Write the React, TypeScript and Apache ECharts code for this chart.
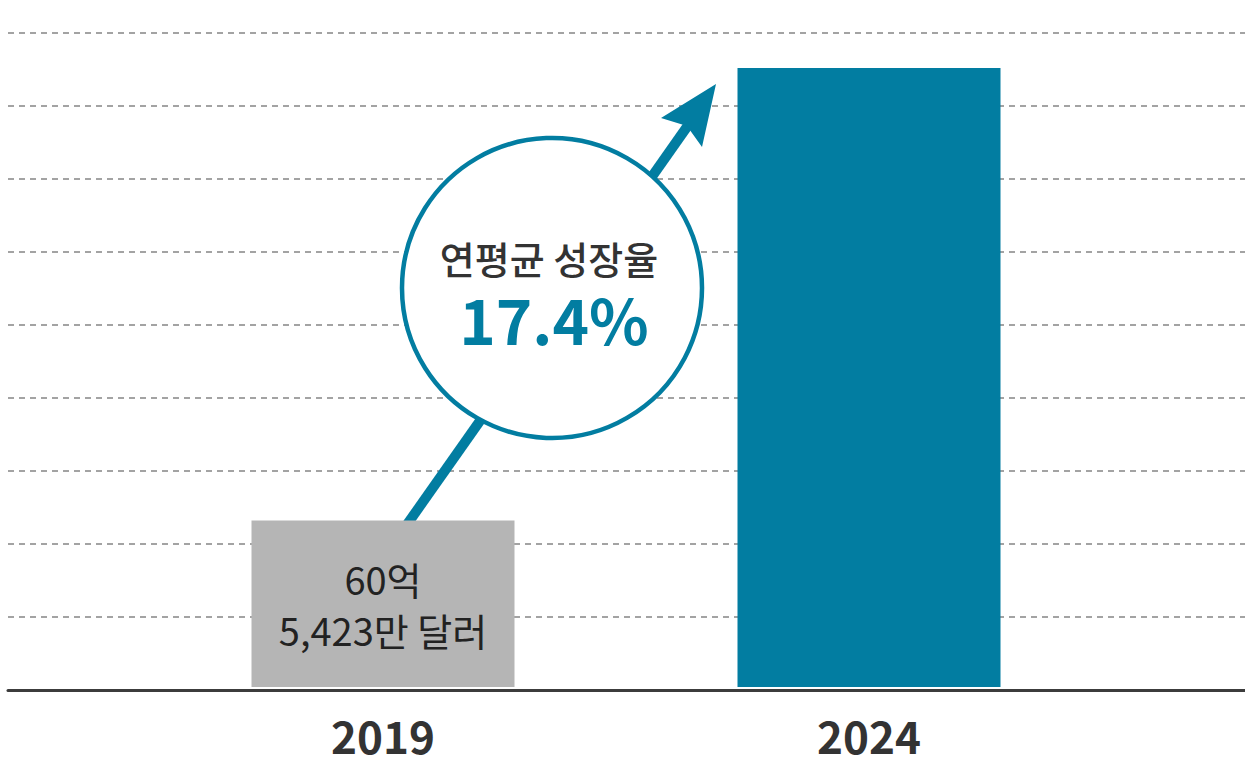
import React, { useEffect, useRef } from "react";
import * as echarts from "echarts";

// Bar heights, in grid-line units (the value axis is unlabeled)
const categories = ["2019", "2024"];
const barValues = [2.29, 8.52];
const barLabels = ["60억\n5,423만 달러", ""];
const barColors = ["#b5b5b5", "#027da1"];
const gridTicks = { min: 0, max: 9, interval: 1 };
const growthTitle = "연평균 성장율";
const growthValue = "17.4%";

const TEAL = "#027da1";
const FONT = '"Noto Sans CJK KR", "Noto Sans", sans-serif';

export default function App() {
  const ref = useRef<HTMLDivElement>(null);

  useEffect(() => {
    if (!ref.current) return;
    const chart = echarts.init(ref.current, null, { renderer: "svg" });
    const option: any = {
      animation: false,
      backgroundColor: "#ffffff",
      grid: [
        { left: 8, right: 0, top: 33, bottom: 67 },
        { left: 140, right: 133, top: 33, bottom: 67 },
      ],
      xAxis: [
        {
          type: "value",
          gridIndex: 0,
          min: 0,
          max: 1,
          axisLine: { show: true, onZero: false, lineStyle: { color: "#3c3c3c", width: 3 } },
          axisTick: { show: false },
          axisLabel: { show: false },
          splitLine: { show: false },
        },
        {
          type: "category",
          gridIndex: 1,
          data: categories,
          axisLine: { show: false },
          axisTick: { show: false },
          splitLine: { show: false },
          axisLabel: {
            margin: 48,
            verticalAlign: "middle",
            lineHeight: 34,
            fontSize: 44,
            fontWeight: 600,
            color: "#333333",
            fontFamily: FONT,
          },
        },
      ],
      yAxis: [
        {
          type: "value",
          gridIndex: 0,
          min: gridTicks.min,
          max: gridTicks.max,
          interval: gridTicks.interval,
          axisLine: { show: false },
          axisTick: { show: false },
          axisLabel: { show: false },
          splitLine: {
            show: true,
            lineStyle: { type: [6, 5], color: "#a3a3a3", width: 2 },
          },
        },
        {
          type: "value",
          gridIndex: 1,
          min: gridTicks.min,
          max: gridTicks.max,
          interval: gridTicks.interval,
          show: false,
          splitLine: { show: false },
        },
      ],
      series: [
        {
          type: "bar",
          xAxisIndex: 1,
          yAxisIndex: 1,
          barWidth: 263,
          z: 2,
          data: barValues.map((v, i) => ({
            value: v,
            itemStyle: { color: barColors[i] },
            label: {
              show: barLabels[i] !== "",
              position: "inside",
              formatter: barLabels[i],
              fontSize: 38,
              lineHeight: 51,
              color: "#222222",
              fontFamily: FONT,
            },
          })),
        },
      ],
      graphic: [
        {
          type: "line",
          z: 1,
          shape: { x1: 401, y1: 533, x2: 689, y2: 124 },
          style: { stroke: TEAL, lineWidth: 10 },
        },
        {
          type: "polygon",
          z: 3,
          shape: { points: [[716, 84], [702, 147], [687, 126], [661, 118]] },
          style: { fill: TEAL },
        },
        {
          type: "circle",
          z: 3,
          shape: { cx: 552, cy: 288, r: 150 },
          style: { fill: "#ffffff", stroke: TEAL, lineWidth: 4.5 },
        },
        {
          type: "text",
          z: 4,
          x: 549,
          y: 257,
          style: {
            text: growthTitle,
            fill: "#333333",
            fontSize: 38,
            lineHeight: 38,
            fontWeight: 500,
            fontFamily: FONT,
            align: "center",
            verticalAlign: "middle",
          },
        },
        {
          type: "text",
          z: 4,
          x: 554,
          y: 318,
          style: {
            text: growthValue,
            fill: TEAL,
            fontSize: 62,
            lineHeight: 54,
            fontWeight: "bold",
            fontFamily: FONT,
            align: "center",
            verticalAlign: "middle",
          },
        },
      ],
    };
    chart.setOption(option);
    return () => chart.dispose();
  }, []);

  return (
    <div
      ref={ref}
      style={{ position: "absolute", left: 0, top: 0, width: 1245, height: 757 }}
    />
  );
}
